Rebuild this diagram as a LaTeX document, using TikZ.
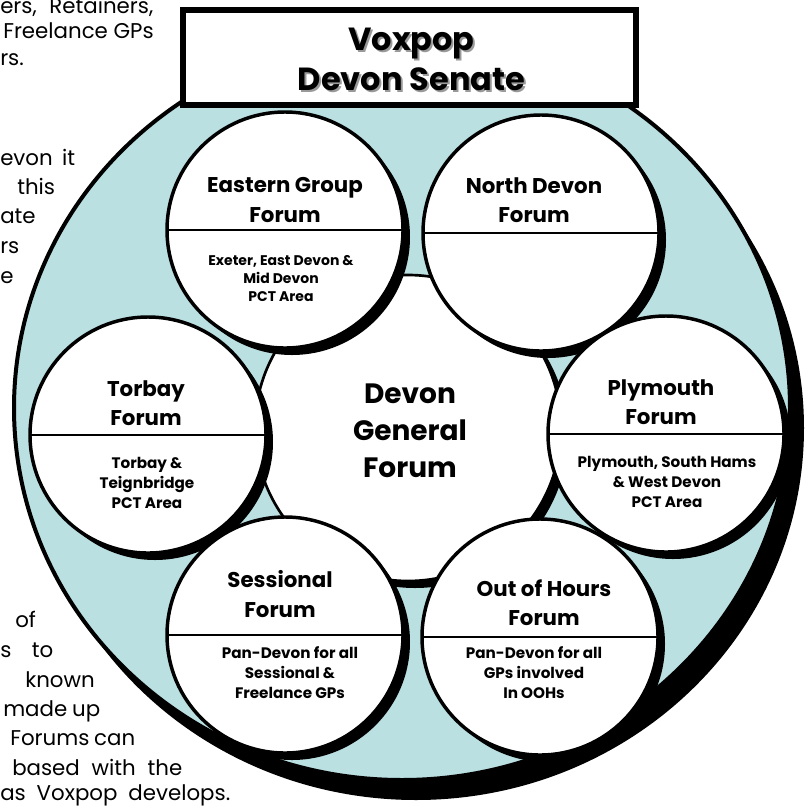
\documentclass[tikz,border=0pt]{standalone}
\usepackage{fontspec}
\setmainfont{Poppins}
\usetikzlibrary{shapes.geometric,shadows}
\definecolor{skyfill}{RGB}{186,224,226}
\begin{document}
\begin{tikzpicture}[x=0.75pt,y=-0.75pt,
  shadowed/.style={drop shadow={shadow xshift=5.25pt,shadow yshift=-5.25pt,fill=black,opacity=1}},
  forum/.style={circle,draw=black,line width=2.6pt,fill=white,minimum size=177pt,inner sep=0pt,outer sep=0pt,shadowed},
  divider/.style={line width=2.2pt},
  ftitle/.style={align=center,font=\bfseries\fontsize{16}{22}\selectfont,inner sep=0pt},
  fsub/.style={align=center,font=\bfseries\fontsize{11.4}{15}\selectfont,inner sep=0pt},
  para/.style={anchor=base west,inner sep=0pt,font=\fontsize{16}{22}\selectfont}]
\useasboundingbox (0,0) rectangle (808,808);
% background paragraph fragments
\node[para] (p1) at (0,13) {\makebox[114.75pt][s]{ers, Retainers,}};
\node[para] (p2) at (3,38) {Freelance GPs};
\node[para] (p3) at (0,65) {rs.};
\node[para] (p4) at (0,165) {\makebox[56.25pt][s]{evon it}};
\node[para] (p5) at (17,194) {this};
\node[para] (p6) at (0,223) {ate};
\node[para] (p7) at (0,253) {rs};
\node[para] (p8) at (0,283) {e};
\node[para] (p9) at (15,627) {of};
\node[para] (p10) at (0,657) {\makebox[39.75pt][s]{s to}};
\node[para] (p11) at (25,687) {known};
\node[para] (p12) at (3,716) {\makebox[72.75pt][s]{made up}};
\node[para] (p13) at (10,745) {\makebox[93.75pt][s]{Forums can}};
\node[para] (p14) at (12,775) {\makebox[127.5pt][s]{based with the}};
\node[para] (p15) at (0,800) {\makebox[172.5pt][s]{as Voxpop develops.}};
% big senate shape
\node[ellipse,draw=black,line width=3pt,fill=skyfill,minimum width=582pt,minimum height=558pt,inner sep=0pt,
  drop shadow={shadow xshift=10.5pt,shadow yshift=-15pt,fill=black,opacity=1}] (senate) at (402,408) {};
% central forum
\node[circle,draw=black,line width=2pt,fill=white,minimum size=229.5pt,inner sep=0pt,shadowed] (general) at (408,428) {};
\node[align=center,inner sep=0pt,font=\bfseries\fontsize{21}{27.75}\selectfont] (generaltext) at (410,431) {Devon\\General\\Forum};
% forums
\node[forum] (eastern) at (285,230) {};
\node[forum] (north) at (541,233) {};
\node[forum] (torbay) at (148,435) {};
\node[forum] (plymouth) at (666,434) {};
\node[forum] (sessional) at (285,635) {};
\node[forum] (ooh) at (540,637) {};
\foreach \f in {eastern,north,torbay,plymouth,sessional,ooh}
  \draw[divider] (\f.west) -- (\f.east);
\node[ftitle] (easternT) at (285,200) {Eastern Group\\Forum};
\node[fsub,font=\bfseries\fontsize{10.5}{13.5}\selectfont] (easternS) at (281,279) {Exeter, East Devon \&\\Mid Devon\\PCT Area};
\node[ftitle] (northT) at (534,200) {North Devon\\Forum};
\node[ftitle] (torbayT) at (146,403) {Torbay\\Forum};
\node[fsub] (torbayS) at (147,483) {Torbay \&\\Teignbridge\\PCT Area};
\node[ftitle] (plymouthT) at (661,402) {Plymouth\\Forum};
\node[fsub] (plymouthS) at (667,482) {Plymouth, South Hams\\\& West Devon\\PCT Area};
\node[ftitle] (sessionalT) at (280,594) {Sessional\\Forum};
\node[fsub] (sessionalS) at (290,673) {Pan-Devon for all\\Sessional \&\\Freelance GPs};
\node[ftitle] (oohT) at (544,603) {Out of Hours\\Forum};
\node[fsub] (oohS) at (534,673) {Pan-Devon for all\\GPs involved\\In OOHs};
% title box
\node[draw=black,line width=4.5pt,fill=white,minimum width=339.75pt,minimum height=71.25pt,inner sep=0pt] (titlebox) at (409.5,57.5) {};
\node[align=center,inner sep=0pt,text=black!40,font=\bfseries\fontsize{24}{30}\selectfont] (titleshadow) at (413.5,61.5) {Voxpop\\Devon Senate};
\node[align=center,inner sep=0pt,font=\bfseries\fontsize{24}{30}\selectfont] (title) at (411.5,59.5) {Voxpop\\Devon Senate};
\end{tikzpicture}
\end{document}
